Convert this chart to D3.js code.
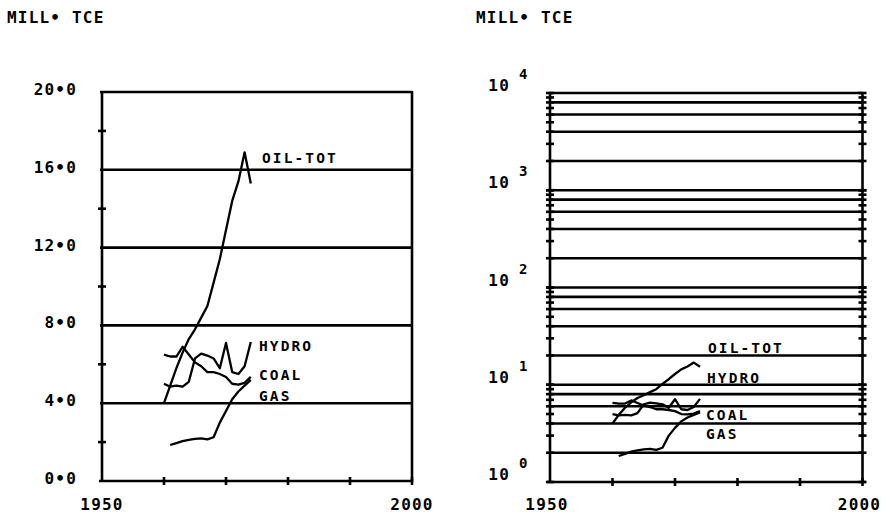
<!DOCTYPE html>
<html>
<head>
<meta charset="utf-8">
<script src="https://cdn.jsdelivr.net/npm/d3@7"></script>
<style>
  html, body { margin: 0; padding: 0; background: #fff; }
  svg text { font-family: "DejaVu Sans Mono", monospace; font-weight: bold; font-size: 16px; letter-spacing: 1.2px; fill: #000; }
  svg text.slab { font-size: 14.5px; letter-spacing: 2.1px; }
</style>
</head>
<body>
<svg id="chart" width="882" height="514"></svg>
<script>
// ---- data ----
const years = [1960, 1961, 1962, 1963, 1964, 1965, 1966, 1967, 1968, 1969, 1970, 1971, 1972, 1973, 1974];
const oilTot = [4.0, 4.9, 5.8, 6.6, 7.3, 7.8, 8.4, 9.0, 10.2, 11.4, 12.9, 14.4, 15.4, 16.9, 15.3];
const hydro  = [5.0, 4.85, 4.9, 4.85, 5.1, 6.3, 6.55, 6.45, 6.3, 5.8, 7.1, 5.6, 5.5, 5.9, 7.15];
const coal   = [6.5, 6.4, 6.4, 6.9, 6.5, 6.1, 5.9, 5.6, 5.6, 5.5, 5.35, 5.0, 4.95, 5.05, 5.35];
const gasYears = [1961, 1962, 1963, 1964, 1965, 1966, 1967, 1968, 1969, 1970, 1971, 1972, 1973, 1974];
const gas    = [1.85, 1.95, 2.05, 2.12, 2.17, 2.19, 2.14, 2.25, 3.0, 3.6, 4.2, 4.6, 4.9, 5.2];

const seriesNames = ["OIL-TOT", "HYDRO", "COAL", "GAS"];
const unitLabel = "MILL\u2022 TCE";
const xDomain = [1950, 2000];
const xTickLabels = [1950, 2000];
const xMinorTicks = [1960, 1970, 1980, 1990];
const linGrid = [4, 8, 12, 16, 20];
const linMinor = [2, 6, 10, 14, 18];
const linLabels = ["0\u20220", "4\u20220", "8\u20220", "12\u20220", "16\u20220", "20\u20220"];
const linLabelValues = [0, 4, 8, 12, 16, 20];
const logExponents = [0, 1, 2, 3, 4];
const gridMultipliers = [2, 4, 6, 8, 10];
const tickMultipliers = [1, 2, 3, 4, 5, 6, 7, 8, 9, 10];

const svg = d3.select("#chart");
const SW = 2.6;
const LW = 2.3;

function series(ys, xs) { return (xs || years).map((y, i) => [y, ys[i]]); }
const allSeries = [
  { name: "OIL-TOT", data: series(oilTot) },
  { name: "HYDRO", data: series(hydro) },
  { name: "COAL", data: series(coal) },
  { name: "GAS", data: series(gas, gasYears) }
];

// ================= LEFT (linear) =================
{
  const x = d3.scaleLinear().domain(xDomain).range([102, 412]);
  const y = d3.scaleLinear().domain([0, 20]).range([481, 92]);
  const g = svg.append("g");

  g.append("text").attr("x", 7).attr("y", 23).text(unitLabel);

  g.selectAll(".grid").data(linGrid).join("line")
    .attr("x1", x(1950) - 2).attr("x2", x(2000))
    .attr("y1", d => y(d)).attr("y2", d => y(d))
    .attr("stroke", "#000").attr("stroke-width", SW);
  g.append("line").attr("x1", x(1950)).attr("x2", x(1950)).attr("y1", y(20)).attr("y2", y(0) + 1).attr("stroke", "#000").attr("stroke-width", SW);
  g.append("line").attr("x1", x(2000)).attr("x2", x(2000)).attr("y1", y(20) - 1).attr("y2", y(0) + 1).attr("stroke", "#000").attr("stroke-width", SW);
  g.append("line").attr("x1", x(1950) - 3).attr("x2", x(2000)).attr("y1", y(0)).attr("y2", y(0)).attr("stroke", "#000").attr("stroke-width", SW);
  g.selectAll(".ymin").data(linMinor).join("line")
    .attr("x1", x(1950) - 4).attr("x2", x(1950) + 4)
    .attr("y1", d => y(d)).attr("y2", d => y(d))
    .attr("stroke", "#000").attr("stroke-width", SW);
  g.selectAll(".xmin").data(xMinorTicks.concat([2000])).join("line")
    .attr("x1", d => x(d)).attr("x2", d => x(d))
    .attr("y1", y(0) - 4).attr("y2", y(0) + 4)
    .attr("stroke", "#000").attr("stroke-width", SW);
  g.selectAll(".ylab").data(linLabelValues).join("text")
    .attr("x", 77).attr("y", d => y(d) + 3).attr("text-anchor", "end")
    .text((d, i) => linLabels[i]);
  g.selectAll(".xlab").data(xTickLabels).join("text")
    .attr("x", d => x(d)).attr("y", 510).attr("text-anchor", "middle")
    .text(d => d);

  const line = d3.line().x(d => x(d[0])).y(d => y(d[1]));
  g.selectAll(".ser").data(allSeries).join("path")
    .attr("d", d => line(d.data)).attr("fill", "none")
    .attr("stroke", "#000").attr("stroke-width", LW).attr("stroke-linejoin", "round");

  const labPos = { "OIL-TOT": [262, 163], "HYDRO": [259, 351], "COAL": [259, 380], "GAS": [259, 401] };
  g.selectAll(".slab").data(seriesNames).join("text").attr("class", "slab")
    .attr("x", d => labPos[d][0]).attr("y", d => labPos[d][1]).text(d => d);
}

// ================= RIGHT (log) =================
{
  const x = d3.scaleLinear().domain(xDomain).range([550, 862.5]);
  const y = d3.scaleLog().domain([1, 1e4]).range([482, 93]);
  const g = svg.append("g");

  g.append("text").attr("x", 476).attr("y", 23).text(unitLabel);

  const gridVals = [];
  const tickVals = [];
  for (let e = 0; e < 4; e++) {
    gridMultipliers.forEach(m => gridVals.push(m * Math.pow(10, e)));
    tickMultipliers.forEach(m => tickVals.push(m * Math.pow(10, e)));
  }
  g.selectAll(".grid").data(gridVals).join("line")
    .attr("x1", x(1950)).attr("x2", x(2000))
    .attr("y1", d => y(d)).attr("y2", d => y(d))
    .attr("stroke", "#000").attr("stroke-width", SW);
  g.append("line").attr("x1", x(1950)).attr("x2", x(1950)).attr("y1", y(1e4)).attr("y2", y(1) + 1).attr("stroke", "#000").attr("stroke-width", SW);
  g.append("line").attr("x1", x(2000)).attr("x2", x(2000)).attr("y1", y(1e4)).attr("y2", y(1) + 1).attr("stroke", "#000").attr("stroke-width", SW);
  g.append("line").attr("x1", x(1950) - 3).attr("x2", x(2000) + 3).attr("y1", y(1)).attr("y2", y(1)).attr("stroke", "#000").attr("stroke-width", SW);
  [1950, 2000].forEach(xv => {
    g.selectAll(null).data(tickVals).join("line")
      .attr("x1", x(xv) - 4).attr("x2", x(xv) + 4)
      .attr("y1", d => y(d)).attr("y2", d => y(d))
      .attr("stroke", "#000").attr("stroke-width", SW);
  });
  g.selectAll(".xmin").data(xMinorTicks.concat([2000])).join("line")
    .attr("x1", d => x(d)).attr("x2", d => x(d))
    .attr("y1", y(1) - 4).attr("y2", y(1) + 4)
    .attr("stroke", "#000").attr("stroke-width", SW);

  const ylab = g.selectAll(".ylab").data(logExponents).join("g");
  ylab.append("text").attr("x", 510).attr("y", d => y(Math.pow(10, d)) - 2)
    .attr("text-anchor", "end").text("10");
  ylab.append("text").attr("x", 519).attr("y", d => y(Math.pow(10, d)) - 14)
    .style("font-size", "14px").text(d => d);

  g.selectAll(".xlab").data(xTickLabels).join("text")
    .attr("x", d => x(d) - 3).attr("y", 510).attr("text-anchor", "middle")
    .text(d => d);

  const line = d3.line().x(d => x(d[0])).y(d => y(d[1]));
  g.selectAll(".ser").data(allSeries).join("path")
    .attr("d", d => line(d.data)).attr("fill", "none")
    .attr("stroke", "#000").attr("stroke-width", LW).attr("stroke-linejoin", "round");

  const labPos = { "OIL-TOT": [708, 353], "HYDRO": [707, 383], "COAL": [706, 420], "GAS": [706, 439] };
  g.selectAll(".slab").data(seriesNames).join("text").attr("class", "slab")
    .attr("x", d => labPos[d][0]).attr("y", d => labPos[d][1]).text(d => d);
}
</script>
</body>
</html>
